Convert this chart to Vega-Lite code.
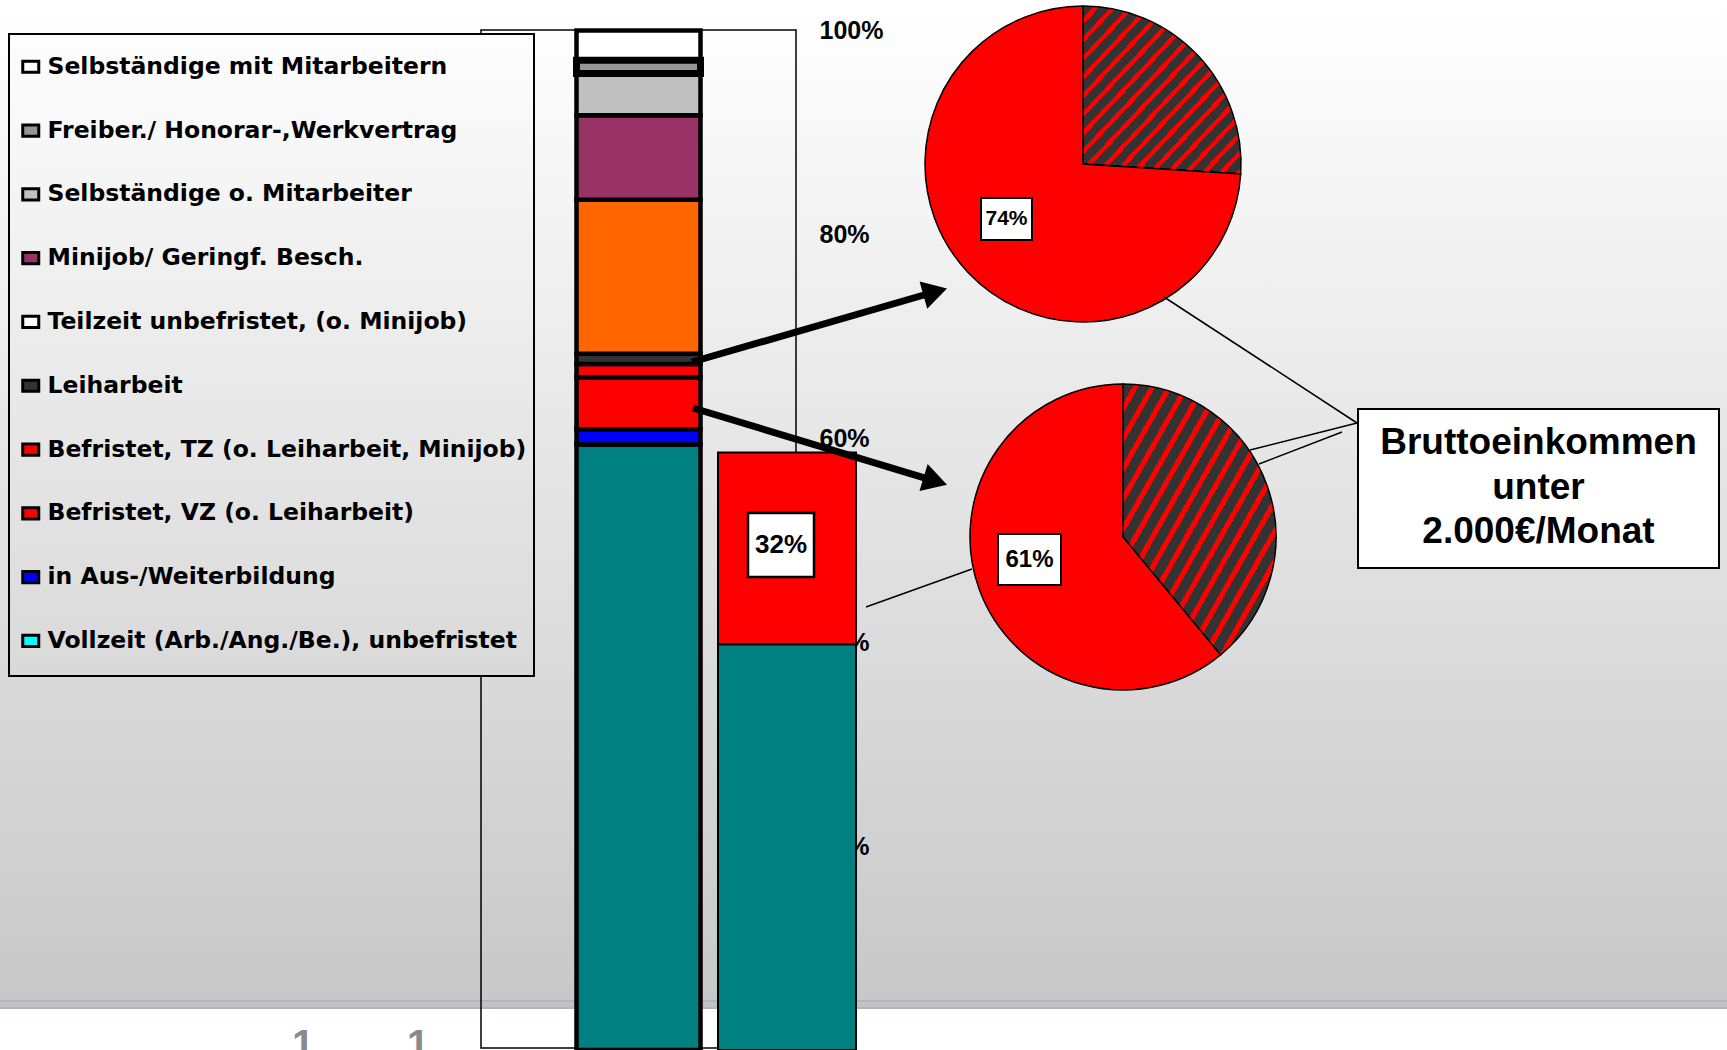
{
  "$schema": "https://vega.github.io/schema/vega-lite/v6.json",
  "width": 1727,
  "height": 1050,
  "padding": 0,
  "autosize": {"type": "none"},
  "background": "#ffffff",
  "view": {
    "stroke": null,
    "fill": {"gradient": "linear", "x1": 0, "y1": 0, "x2": 0, "y2": 1, "stops": [
      {"offset": 0, "color": "#ffffff"},
      {"offset": 0.952, "color": "#c8c8c8"},
      {"offset": 0.952, "color": "#b2b2c8"},
      {"offset": 0.9545, "color": "#b2b2c8"},
      {"offset": 0.9545, "color": "#c2c2c2"},
      {"offset": 0.9595, "color": "#c2c2c2"},
      {"offset": 0.9595, "color": "#b2b2c8"},
      {"offset": 0.961, "color": "#b2b2c8"},
      {"offset": 0.961, "color": "#ffffff"},
      {"offset": 1, "color": "#ffffff"}
    ]}
  },
  "config": {"font": "Liberation Sans"},
  "datasets": {
    "erwerbsformen": [
      {"Kategorie": "Vollzeit (Arb./Ang./Be.), unbefristet", "Anteil": 59.4, "Rang": 1},
      {"Kategorie": "in Aus-/Weiterbildung", "Anteil": 1.5, "Rang": 2},
      {"Kategorie": "Befristet, VZ (o. Leiharbeit)", "Anteil": 5.1, "Rang": 3},
      {"Kategorie": "Befristet, TZ (o. Leiharbeit, Minijob)", "Anteil": 1.3, "Rang": 4},
      {"Kategorie": "Leiharbeit", "Anteil": 1.0, "Rang": 5},
      {"Kategorie": "Teilzeit unbefristet, (o. Minijob)", "Anteil": 15.1, "Rang": 6},
      {"Kategorie": "Minijob/ Geringf. Besch.", "Anteil": 8.3, "Rang": 7},
      {"Kategorie": "Selbständige o. Mitarbeiter", "Anteil": 4.1, "Rang": 8},
      {"Kategorie": "Selbständige mit  Mitarbeitern", "Anteil": 2.9, "Rang": 10},
      {"Kategorie": "Freiber./ Honorar-,Werkvertrag", "Anteil": 1.3, "Rang": 9}
    ],
    "vergleich": [
      {"Teil": "Vollzeit unbefristet", "Anteil": 39.8, "Rang": 1},
      {"Teil": "übrige", "Anteil": 18.8, "Rang": 2, "Quote": 0.32}
    ],
    "einkommen": [
      {"Gruppe": "Leiharbeit", "Teil": "ab 2.000€/Monat", "Anteil": 0.26, "Rang": 1},
      {"Gruppe": "Leiharbeit", "Teil": "unter 2.000€/Monat", "Anteil": 0.74, "Rang": 2},
      {"Gruppe": "Befristet", "Teil": "ab 2.000€/Monat", "Anteil": 0.39, "Rang": 1},
      {"Gruppe": "Befristet", "Teil": "unter 2.000€/Monat", "Anteil": 0.61, "Rang": 2}
    ]
  },
  "resolve": {"scale": {"y": "independent", "fill": "independent"}, "legend": {"fill": "independent"}},
  "layer": [
    {
      "data": {"values": [{"Element": "Rahmen"}]},
      "mark": {"type": "rect", "filled": false, "color": "#000000", "strokeWidth": 1.5},
      "encoding": {
        "x": {"datum": 481, "type": "quantitative", "scale": {"domain": [0, 1727], "nice": false, "zero": false}, "axis": null},
        "x2": {"datum": 796},
        "y": {"datum": 30, "type": "quantitative", "scale": {"domain": [0, 1050], "reverse": true, "nice": false, "zero": false}, "axis": null},
        "y2": {"datum": 1048}
      }
    },
    {
      "data": {"name": "erwerbsformen"},
      "transform": [{"stack": "Anteil", "groupby": [], "sort": [{"field": "Rang", "order": "ascending"}], "as": ["von", "bis"]}],
      "mark": {"type": "rect", "stroke": "#000000"},
      "encoding": {
        "x": {"datum": 576.5, "type": "quantitative", "scale": {"domain": [0, 1727], "nice": false, "zero": false}, "axis": null},
        "x2": {"datum": 700.5},
        "y": {"field": "von", "type": "quantitative", "scale": {"domain": [0, 103], "nice": false, "zero": false},
          "axis": {"orient": "right", "offset": -909, "values": [20, 40, 60, 80, 100], "labelExpr": "datum.value + '%'", "ticks": false, "domain": false, "grid": false, "title": null, "labelFont": "Liberation Sans", "labelFontWeight": "bold", "labelFontSize": 25, "labelColor": "#000000", "labelPadding": 1, "labelAlign": "left", "labelBaseline": "middle", "labelOverlap": false, "labelBound": false, "labelFlush": false}},
        "y2": {"field": "bis"},
        "fill": {"field": "Kategorie", "type": "nominal", "legend": null,
          "scale": {"domain": ["Selbständige mit  Mitarbeitern", "Freiber./ Honorar-,Werkvertrag", "Selbständige o. Mitarbeiter", "Minijob/ Geringf. Besch.", "Teilzeit unbefristet, (o. Minijob)", "Leiharbeit", "Befristet, TZ (o. Leiharbeit, Minijob)", "Befristet, VZ (o. Leiharbeit)", "in Aus-/Weiterbildung", "Vollzeit (Arb./Ang./Be.), unbefristet"],
            "range": ["#ffffff", "#969696", "#c0c0c0", "#993366", "#ff6600", "#333333", "#ff0000", "#ff0000", "#0000ff", "#008080"]}},
        "strokeWidth": {"condition": {"test": "datum.Kategorie === 'Freiber./ Honorar-,Werkvertrag'", "value": 7}, "value": 4.5}
      }
    },
    {
      "data": {"name": "vergleich"},
      "transform": [{"stack": "Anteil", "groupby": [], "sort": [{"field": "Rang", "order": "ascending"}], "as": ["von", "bis"]}],
      "mark": {"type": "rect", "stroke": "#000000", "strokeWidth": 2},
      "encoding": {
        "x": {"datum": 718, "type": "quantitative", "scale": {"domain": [0, 1727], "nice": false, "zero": false}, "axis": null},
        "x2": {"datum": 856},
        "y": {"field": "von", "type": "quantitative", "scale": {"domain": [0, 103], "nice": false, "zero": false}, "axis": null},
        "y2": {"field": "bis"},
        "fill": {"field": "Teil", "type": "nominal", "legend": null, "scale": {"domain": ["Vollzeit unbefristet", "übrige"], "range": ["#008080", "#ff0000"]}}
      }
    },
    {
      "data": {"name": "vergleich"},
      "transform": [{"filter": "datum.Rang === 2"}],
      "mark": {"type": "rect", "fill": "#ffffff", "stroke": "#000000", "strokeWidth": 2.5},
      "encoding": {
        "x": {"datum": 748, "type": "quantitative", "scale": {"domain": [0, 1727], "nice": false, "zero": false}, "axis": null},
        "x2": {"datum": 814},
        "y": {"datum": 513, "type": "quantitative", "scale": {"domain": [0, 1050], "reverse": true, "nice": false, "zero": false}, "axis": null},
        "y2": {"datum": 577}
      }
    },
    {
      "data": {"name": "vergleich"},
      "transform": [{"filter": "datum.Rang === 2"}],
      "mark": {"type": "text", "font": "Liberation Sans", "fontWeight": "bold", "fontSize": 26, "align": "center", "baseline": "middle", "color": "#000000"},
      "encoding": {
        "x": {"datum": 781, "type": "quantitative", "scale": {"domain": [0, 1727], "nice": false, "zero": false}, "axis": null},
        "y": {"datum": 545, "type": "quantitative", "scale": {"domain": [0, 1050], "reverse": true, "nice": false, "zero": false}, "axis": null},
        "text": {"field": "Quote", "type": "quantitative", "format": ".0%"}
      }
    },
    {
      "data": {"values": [{"Element": "Legende"}]},
      "mark": {"type": "rect", "stroke": "#000000", "strokeWidth": 2,
        "fill": {"gradient": "linear", "x1": 0, "y1": 0, "x2": 0, "y2": 1, "stops": [{"offset": 0, "color": "#fdfdfd"}, {"offset": 1, "color": "#d9d9d9"}]}},
      "encoding": {
        "x": {"datum": 9, "type": "quantitative", "scale": {"domain": [0, 1727], "nice": false, "zero": false}, "axis": null},
        "x2": {"datum": 534},
        "y": {"datum": 34, "type": "quantitative", "scale": {"domain": [0, 1050], "reverse": true, "nice": false, "zero": false}, "axis": null},
        "y2": {"datum": 676}
      }
    },
    {
      "data": {"name": "erwerbsformen"},
      "mark": {"type": "rect", "stroke": "#000000", "strokeWidth": 3},
      "encoding": {
        "x": {"datum": -60, "type": "quantitative", "scale": {"domain": [0, 1727], "nice": false, "zero": false}, "axis": null},
        "x2": {"datum": -60},
        "y": {"datum": -60, "type": "quantitative", "scale": {"domain": [0, 1050], "reverse": true, "nice": false, "zero": false}, "axis": null},
        "y2": {"datum": -60},
        "fill": {"field": "Kategorie", "type": "nominal",
          "scale": {"domain": ["Selbständige mit  Mitarbeitern", "Freiber./ Honorar-,Werkvertrag", "Selbständige o. Mitarbeiter", "Minijob/ Geringf. Besch.", "Teilzeit unbefristet, (o. Minijob)", "Leiharbeit", "Befristet, TZ (o. Leiharbeit, Minijob)", "Befristet, VZ (o. Leiharbeit)", "in Aus-/Weiterbildung", "Vollzeit (Arb./Ang./Be.), unbefristet"],
            "range": ["#ffffff", "#969696", "#c0c0c0", "#993366", "#ffffff", "#333333", "#ff0000", "#ff0000", "#0000ff", "#00ffff"]},
          "legend": {"orient": "none", "legendX": 19, "legendY": 55, "title": null, "direction": "vertical",
            "symbolType": "M-1,-0.7H1V0.7H-1Z", "symbolSize": 256, "symbolStrokeColor": "#000000", "symbolStrokeWidth": 3, "symbolOpacity": 1,
            "labelFont": "DejaVu Sans", "labelFontWeight": "bold", "labelFontSize": 23.5, "labelColor": "#000000", "labelLimit": 700, "labelOffset": 5,
            "rowPadding": 38.8, "padding": 0,
            "encode": {"symbols": {"update": {"stroke": {"value": "#000000"}, "strokeWidth": {"value": 3}}}}}
        }
      }
    },
    {
      "data": {"name": "einkommen"},
      "transform": [{"filter": "datum.Gruppe === 'Leiharbeit'"}, {"stack": "Anteil", "groupby": [], "sort": [{"field": "Rang"}], "as": ["t0", "t1"]}, {"filter": "datum.Rang === 1"}],
      "mark": {"type": "arc", "outerRadius": 158, "stroke": "#000000", "strokeWidth": 1.5,
        "fill": {"gradient": "linear", "x1": 0, "y1": 0, "x2": 1, "y2": 1, "stops": [
          {"offset": 0, "color": "#333333"}, {"offset": 0.0361, "color": "#333333"}, {"offset": 0.0361, "color": "#ff0000"}, {"offset": 0.0556, "color": "#ff0000"},
          {"offset": 0.0556, "color": "#333333"}, {"offset": 0.0917, "color": "#333333"}, {"offset": 0.0917, "color": "#ff0000"}, {"offset": 0.1111, "color": "#ff0000"},
          {"offset": 0.1111, "color": "#333333"}, {"offset": 0.1472, "color": "#333333"}, {"offset": 0.1472, "color": "#ff0000"}, {"offset": 0.1667, "color": "#ff0000"},
          {"offset": 0.1667, "color": "#333333"}, {"offset": 0.2028, "color": "#333333"}, {"offset": 0.2028, "color": "#ff0000"}, {"offset": 0.2222, "color": "#ff0000"},
          {"offset": 0.2222, "color": "#333333"}, {"offset": 0.2583, "color": "#333333"}, {"offset": 0.2583, "color": "#ff0000"}, {"offset": 0.2778, "color": "#ff0000"},
          {"offset": 0.2778, "color": "#333333"}, {"offset": 0.3139, "color": "#333333"}, {"offset": 0.3139, "color": "#ff0000"}, {"offset": 0.3333, "color": "#ff0000"},
          {"offset": 0.3333, "color": "#333333"}, {"offset": 0.3694, "color": "#333333"}, {"offset": 0.3694, "color": "#ff0000"}, {"offset": 0.3889, "color": "#ff0000"},
          {"offset": 0.3889, "color": "#333333"}, {"offset": 0.425, "color": "#333333"}, {"offset": 0.425, "color": "#ff0000"}, {"offset": 0.4444, "color": "#ff0000"},
          {"offset": 0.4444, "color": "#333333"}, {"offset": 0.4806, "color": "#333333"}, {"offset": 0.4806, "color": "#ff0000"}, {"offset": 0.5, "color": "#ff0000"},
          {"offset": 0.5, "color": "#333333"}, {"offset": 0.5361, "color": "#333333"}, {"offset": 0.5361, "color": "#ff0000"}, {"offset": 0.5556, "color": "#ff0000"},
          {"offset": 0.5556, "color": "#333333"}, {"offset": 0.5917, "color": "#333333"}, {"offset": 0.5917, "color": "#ff0000"}, {"offset": 0.6111, "color": "#ff0000"},
          {"offset": 0.6111, "color": "#333333"}, {"offset": 0.6472, "color": "#333333"}, {"offset": 0.6472, "color": "#ff0000"}, {"offset": 0.6667, "color": "#ff0000"},
          {"offset": 0.6667, "color": "#333333"}, {"offset": 0.7028, "color": "#333333"}, {"offset": 0.7028, "color": "#ff0000"}, {"offset": 0.7222, "color": "#ff0000"},
          {"offset": 0.7222, "color": "#333333"}, {"offset": 0.7583, "color": "#333333"}, {"offset": 0.7583, "color": "#ff0000"}, {"offset": 0.7778, "color": "#ff0000"},
          {"offset": 0.7778, "color": "#333333"}, {"offset": 0.8139, "color": "#333333"}, {"offset": 0.8139, "color": "#ff0000"}, {"offset": 0.8333, "color": "#ff0000"},
          {"offset": 0.8333, "color": "#333333"}, {"offset": 0.8694, "color": "#333333"}, {"offset": 0.8694, "color": "#ff0000"}, {"offset": 0.8889, "color": "#ff0000"},
          {"offset": 0.8889, "color": "#333333"}, {"offset": 0.925, "color": "#333333"}, {"offset": 0.925, "color": "#ff0000"}, {"offset": 0.9444, "color": "#ff0000"},
          {"offset": 0.9444, "color": "#333333"}, {"offset": 0.9806, "color": "#333333"}, {"offset": 0.9806, "color": "#ff0000"}, {"offset": 1, "color": "#ff0000"}
        ]}},
      "encoding": {
        "theta": {"field": "t0", "type": "quantitative", "scale": {"domain": [0, 1], "range": [0, 6.283185307179586]}},
        "theta2": {"field": "t1"},
        "x": {"datum": 1083, "type": "quantitative", "scale": {"domain": [0, 1727], "nice": false, "zero": false}, "axis": null},
        "y": {"datum": 164, "type": "quantitative", "scale": {"domain": [0, 1050], "reverse": true, "nice": false, "zero": false}, "axis": null}
      }
    },
    {
      "data": {"name": "einkommen"},
      "transform": [{"filter": "datum.Gruppe === 'Leiharbeit'"}, {"stack": "Anteil", "groupby": [], "sort": [{"field": "Rang"}], "as": ["t0", "t1"]}, {"filter": "datum.Rang === 2"}],
      "mark": {"type": "arc", "outerRadius": 158, "stroke": "#000000", "strokeWidth": 1.5, "fill": "#ff0000"},
      "encoding": {
        "theta": {"field": "t0", "type": "quantitative", "scale": {"domain": [0, 1], "range": [0, 6.283185307179586]}},
        "theta2": {"field": "t1"},
        "x": {"datum": 1083, "type": "quantitative", "scale": {"domain": [0, 1727], "nice": false, "zero": false}, "axis": null},
        "y": {"datum": 164, "type": "quantitative", "scale": {"domain": [0, 1050], "reverse": true, "nice": false, "zero": false}, "axis": null}
      }
    },
    {
      "data": {"name": "einkommen"},
      "transform": [{"filter": "datum.Gruppe === 'Befristet'"}, {"stack": "Anteil", "groupby": [], "sort": [{"field": "Rang"}], "as": ["t0", "t1"]}, {"filter": "datum.Rang === 1"}],
      "mark": {"type": "arc", "outerRadius": 153, "stroke": "#000000", "strokeWidth": 1.5,
        "fill": {"gradient": "linear", "x1": 0, "y1": 0, "x2": 1, "y2": 1, "stops": [
          {"offset": 0, "color": "#333333"}, {"offset": 0.0361, "color": "#333333"}, {"offset": 0.0361, "color": "#ff0000"}, {"offset": 0.0556, "color": "#ff0000"},
          {"offset": 0.0556, "color": "#333333"}, {"offset": 0.0917, "color": "#333333"}, {"offset": 0.0917, "color": "#ff0000"}, {"offset": 0.1111, "color": "#ff0000"},
          {"offset": 0.1111, "color": "#333333"}, {"offset": 0.1472, "color": "#333333"}, {"offset": 0.1472, "color": "#ff0000"}, {"offset": 0.1667, "color": "#ff0000"},
          {"offset": 0.1667, "color": "#333333"}, {"offset": 0.2028, "color": "#333333"}, {"offset": 0.2028, "color": "#ff0000"}, {"offset": 0.2222, "color": "#ff0000"},
          {"offset": 0.2222, "color": "#333333"}, {"offset": 0.2583, "color": "#333333"}, {"offset": 0.2583, "color": "#ff0000"}, {"offset": 0.2778, "color": "#ff0000"},
          {"offset": 0.2778, "color": "#333333"}, {"offset": 0.3139, "color": "#333333"}, {"offset": 0.3139, "color": "#ff0000"}, {"offset": 0.3333, "color": "#ff0000"},
          {"offset": 0.3333, "color": "#333333"}, {"offset": 0.3694, "color": "#333333"}, {"offset": 0.3694, "color": "#ff0000"}, {"offset": 0.3889, "color": "#ff0000"},
          {"offset": 0.3889, "color": "#333333"}, {"offset": 0.425, "color": "#333333"}, {"offset": 0.425, "color": "#ff0000"}, {"offset": 0.4444, "color": "#ff0000"},
          {"offset": 0.4444, "color": "#333333"}, {"offset": 0.4806, "color": "#333333"}, {"offset": 0.4806, "color": "#ff0000"}, {"offset": 0.5, "color": "#ff0000"},
          {"offset": 0.5, "color": "#333333"}, {"offset": 0.5361, "color": "#333333"}, {"offset": 0.5361, "color": "#ff0000"}, {"offset": 0.5556, "color": "#ff0000"},
          {"offset": 0.5556, "color": "#333333"}, {"offset": 0.5917, "color": "#333333"}, {"offset": 0.5917, "color": "#ff0000"}, {"offset": 0.6111, "color": "#ff0000"},
          {"offset": 0.6111, "color": "#333333"}, {"offset": 0.6472, "color": "#333333"}, {"offset": 0.6472, "color": "#ff0000"}, {"offset": 0.6667, "color": "#ff0000"},
          {"offset": 0.6667, "color": "#333333"}, {"offset": 0.7028, "color": "#333333"}, {"offset": 0.7028, "color": "#ff0000"}, {"offset": 0.7222, "color": "#ff0000"},
          {"offset": 0.7222, "color": "#333333"}, {"offset": 0.7583, "color": "#333333"}, {"offset": 0.7583, "color": "#ff0000"}, {"offset": 0.7778, "color": "#ff0000"},
          {"offset": 0.7778, "color": "#333333"}, {"offset": 0.8139, "color": "#333333"}, {"offset": 0.8139, "color": "#ff0000"}, {"offset": 0.8333, "color": "#ff0000"},
          {"offset": 0.8333, "color": "#333333"}, {"offset": 0.8694, "color": "#333333"}, {"offset": 0.8694, "color": "#ff0000"}, {"offset": 0.8889, "color": "#ff0000"},
          {"offset": 0.8889, "color": "#333333"}, {"offset": 0.925, "color": "#333333"}, {"offset": 0.925, "color": "#ff0000"}, {"offset": 0.9444, "color": "#ff0000"},
          {"offset": 0.9444, "color": "#333333"}, {"offset": 0.9806, "color": "#333333"}, {"offset": 0.9806, "color": "#ff0000"}, {"offset": 1, "color": "#ff0000"}
        ]}},
      "encoding": {
        "theta": {"field": "t0", "type": "quantitative", "scale": {"domain": [0, 1], "range": [0, 6.283185307179586]}},
        "theta2": {"field": "t1"},
        "x": {"datum": 1123, "type": "quantitative", "scale": {"domain": [0, 1727], "nice": false, "zero": false}, "axis": null},
        "y": {"datum": 537, "type": "quantitative", "scale": {"domain": [0, 1050], "reverse": true, "nice": false, "zero": false}, "axis": null}
      }
    },
    {
      "data": {"name": "einkommen"},
      "transform": [{"filter": "datum.Gruppe === 'Befristet'"}, {"stack": "Anteil", "groupby": [], "sort": [{"field": "Rang"}], "as": ["t0", "t1"]}, {"filter": "datum.Rang === 2"}],
      "mark": {"type": "arc", "outerRadius": 153, "stroke": "#000000", "strokeWidth": 1.5, "fill": "#ff0000"},
      "encoding": {
        "theta": {"field": "t0", "type": "quantitative", "scale": {"domain": [0, 1], "range": [0, 6.283185307179586]}},
        "theta2": {"field": "t1"},
        "x": {"datum": 1123, "type": "quantitative", "scale": {"domain": [0, 1727], "nice": false, "zero": false}, "axis": null},
        "y": {"datum": 537, "type": "quantitative", "scale": {"domain": [0, 1050], "reverse": true, "nice": false, "zero": false}, "axis": null}
      }
    },
    {
      "data": {"name": "einkommen"},
      "transform": [{"filter": "datum.Gruppe === 'Leiharbeit' && datum.Rang === 2"}],
      "mark": {"type": "rect", "fill": "#ffffff", "stroke": "#000000", "strokeWidth": 2},
      "encoding": {
        "x": {"datum": 981, "type": "quantitative", "scale": {"domain": [0, 1727], "nice": false, "zero": false}, "axis": null},
        "x2": {"datum": 1032},
        "y": {"datum": 198, "type": "quantitative", "scale": {"domain": [0, 1050], "reverse": true, "nice": false, "zero": false}, "axis": null},
        "y2": {"datum": 240}
      }
    },
    {
      "data": {"name": "einkommen"},
      "transform": [{"filter": "datum.Gruppe === 'Leiharbeit' && datum.Rang === 2"}],
      "mark": {"type": "text", "font": "Liberation Sans", "fontWeight": "bold", "fontSize": 21, "align": "center", "baseline": "middle", "color": "#000000"},
      "encoding": {
        "x": {"datum": 1006.5, "type": "quantitative", "scale": {"domain": [0, 1727], "nice": false, "zero": false}, "axis": null},
        "y": {"datum": 219, "type": "quantitative", "scale": {"domain": [0, 1050], "reverse": true, "nice": false, "zero": false}, "axis": null},
        "text": {"field": "Anteil", "type": "quantitative", "format": ".0%"}
      }
    },
    {
      "data": {"name": "einkommen"},
      "transform": [{"filter": "datum.Gruppe === 'Befristet' && datum.Rang === 2"}],
      "mark": {"type": "rect", "fill": "#ffffff", "stroke": "#000000", "strokeWidth": 2},
      "encoding": {
        "x": {"datum": 998, "type": "quantitative", "scale": {"domain": [0, 1727], "nice": false, "zero": false}, "axis": null},
        "x2": {"datum": 1061},
        "y": {"datum": 534, "type": "quantitative", "scale": {"domain": [0, 1050], "reverse": true, "nice": false, "zero": false}, "axis": null},
        "y2": {"datum": 585}
      }
    },
    {
      "data": {"name": "einkommen"},
      "transform": [{"filter": "datum.Gruppe === 'Befristet' && datum.Rang === 2"}],
      "mark": {"type": "text", "font": "Liberation Sans", "fontWeight": "bold", "fontSize": 24, "align": "center", "baseline": "middle", "color": "#000000"},
      "encoding": {
        "x": {"datum": 1029.5, "type": "quantitative", "scale": {"domain": [0, 1727], "nice": false, "zero": false}, "axis": null},
        "y": {"datum": 559.5, "type": "quantitative", "scale": {"domain": [0, 1050], "reverse": true, "nice": false, "zero": false}, "axis": null},
        "text": {"field": "Anteil", "type": "quantitative", "format": ".0%"}
      }
    },
    {
      "data": {"values": [{"Pfeil": "Leiharbeit"}]},
      "mark": {"type": "rule", "strokeWidth": 7, "color": "#000000"},
      "encoding": {
        "x": {"datum": 692, "type": "quantitative", "scale": {"domain": [0, 1727], "nice": false, "zero": false}, "axis": null},
        "x2": {"datum": 936},
        "y": {"datum": 362, "type": "quantitative", "scale": {"domain": [0, 1050], "reverse": true, "nice": false, "zero": false}, "axis": null},
        "y2": {"datum": 291.5}
      }
    },
    {
      "data": {"values": [{"Pfeil": "Leiharbeit"}]},
      "mark": {"type": "point", "shape": "triangle-right", "filled": true, "color": "#000000", "opacity": 1, "size": 800, "angle": -15.7},
      "encoding": {
        "x": {"datum": 935.2, "type": "quantitative", "scale": {"domain": [0, 1727], "nice": false, "zero": false}, "axis": null},
        "y": {"datum": 291.9, "type": "quantitative", "scale": {"domain": [0, 1050], "reverse": true, "nice": false, "zero": false}, "axis": null}
      }
    },
    {
      "data": {"values": [{"Pfeil": "Befristet"}]},
      "mark": {"type": "rule", "strokeWidth": 7, "color": "#000000"},
      "encoding": {
        "x": {"datum": 693, "type": "quantitative", "scale": {"domain": [0, 1727], "nice": false, "zero": false}, "axis": null},
        "x2": {"datum": 936},
        "y": {"datum": 408, "type": "quantitative", "scale": {"domain": [0, 1050], "reverse": true, "nice": false, "zero": false}, "axis": null},
        "y2": {"datum": 481.3}
      }
    },
    {
      "data": {"values": [{"Pfeil": "Befristet"}]},
      "mark": {"type": "point", "shape": "triangle-right", "filled": true, "color": "#000000", "opacity": 1, "size": 800, "angle": 16.8},
      "encoding": {
        "x": {"datum": 935.3, "type": "quantitative", "scale": {"domain": [0, 1727], "nice": false, "zero": false}, "axis": null},
        "y": {"datum": 481.1, "type": "quantitative", "scale": {"domain": [0, 1050], "reverse": true, "nice": false, "zero": false}, "axis": null}
      }
    },
    {
      "data": {"values": [{"Linie": "Box zu Kreis 1"}]},
      "mark": {"type": "rule", "strokeWidth": 1.5, "color": "#000000"},
      "encoding": {
        "x": {"datum": 1357, "type": "quantitative", "scale": {"domain": [0, 1727], "nice": false, "zero": false}, "axis": null},
        "x2": {"datum": 1164},
        "y": {"datum": 423, "type": "quantitative", "scale": {"domain": [0, 1050], "reverse": true, "nice": false, "zero": false}, "axis": null},
        "y2": {"datum": 297}
      }
    },
    {
      "data": {"values": [{"Linie": "Box zu Kreis 2 a"}]},
      "mark": {"type": "rule", "strokeWidth": 1.5, "color": "#000000"},
      "encoding": {
        "x": {"datum": 1357, "type": "quantitative", "scale": {"domain": [0, 1727], "nice": false, "zero": false}, "axis": null},
        "x2": {"datum": 1250},
        "y": {"datum": 423, "type": "quantitative", "scale": {"domain": [0, 1050], "reverse": true, "nice": false, "zero": false}, "axis": null},
        "y2": {"datum": 450}
      }
    },
    {
      "data": {"values": [{"Linie": "Box zu Kreis 2 b"}]},
      "mark": {"type": "rule", "strokeWidth": 1.5, "color": "#000000"},
      "encoding": {
        "x": {"datum": 1342, "type": "quantitative", "scale": {"domain": [0, 1727], "nice": false, "zero": false}, "axis": null},
        "x2": {"datum": 1259},
        "y": {"datum": 432, "type": "quantitative", "scale": {"domain": [0, 1050], "reverse": true, "nice": false, "zero": false}, "axis": null},
        "y2": {"datum": 464}
      }
    },
    {
      "data": {"values": [{"Linie": "Balken zu Kreis 2"}]},
      "mark": {"type": "rule", "strokeWidth": 1.5, "color": "#000000"},
      "encoding": {
        "x": {"datum": 866, "type": "quantitative", "scale": {"domain": [0, 1727], "nice": false, "zero": false}, "axis": null},
        "x2": {"datum": 972},
        "y": {"datum": 607, "type": "quantitative", "scale": {"domain": [0, 1050], "reverse": true, "nice": false, "zero": false}, "axis": null},
        "y2": {"datum": 569}
      }
    },
    {
      "data": {"values": [{"Hinweis": "Bruttoeinkommen\nunter\n2.000€/Monat"}]},
      "mark": {"type": "rect", "fill": "#ffffff", "stroke": "#000000", "strokeWidth": 2},
      "encoding": {
        "x": {"datum": 1358, "type": "quantitative", "scale": {"domain": [0, 1727], "nice": false, "zero": false}, "axis": null},
        "x2": {"datum": 1719},
        "y": {"datum": 409, "type": "quantitative", "scale": {"domain": [0, 1050], "reverse": true, "nice": false, "zero": false}, "axis": null},
        "y2": {"datum": 568}
      }
    },
    {
      "data": {"values": [{"Hinweis": "Bruttoeinkommen\nunter\n2.000€/Monat"}]},
      "mark": {"type": "text", "font": "Liberation Sans", "fontWeight": "bold", "fontSize": 37, "lineHeight": 44.5, "lineBreak": "\n", "align": "center", "baseline": "middle", "color": "#000000"},
      "encoding": {
        "x": {"datum": 1538.5, "type": "quantitative", "scale": {"domain": [0, 1727], "nice": false, "zero": false}, "axis": null},
        "y": {"datum": 443, "type": "quantitative", "scale": {"domain": [0, 1050], "reverse": true, "nice": false, "zero": false}, "axis": null},
        "text": {"field": "Hinweis", "type": "nominal"}
      }
    },
    {
      "data": {"values": [{"Ziffer": "1"}]},
      "mark": {"type": "text", "font": "Liberation Sans", "fontWeight": "bold", "fontSize": 40, "align": "center", "baseline": "alphabetic", "color": "#8a8a8a"},
      "encoding": {
        "x": {"datum": 303, "type": "quantitative", "scale": {"domain": [0, 1727], "nice": false, "zero": false}, "axis": null},
        "y": {"datum": 1058, "type": "quantitative", "scale": {"domain": [0, 1050], "reverse": true, "nice": false, "zero": false}, "axis": null},
        "text": {"field": "Ziffer", "type": "nominal"}
      }
    },
    {
      "data": {"values": [{"Ziffer": "1"}]},
      "mark": {"type": "text", "font": "Liberation Sans", "fontWeight": "bold", "fontSize": 40, "align": "center", "baseline": "alphabetic", "color": "#8a8a8a"},
      "encoding": {
        "x": {"datum": 418, "type": "quantitative", "scale": {"domain": [0, 1727], "nice": false, "zero": false}, "axis": null},
        "y": {"datum": 1058, "type": "quantitative", "scale": {"domain": [0, 1050], "reverse": true, "nice": false, "zero": false}, "axis": null},
        "text": {"field": "Ziffer", "type": "nominal"}
      }
    }
  ]
}
